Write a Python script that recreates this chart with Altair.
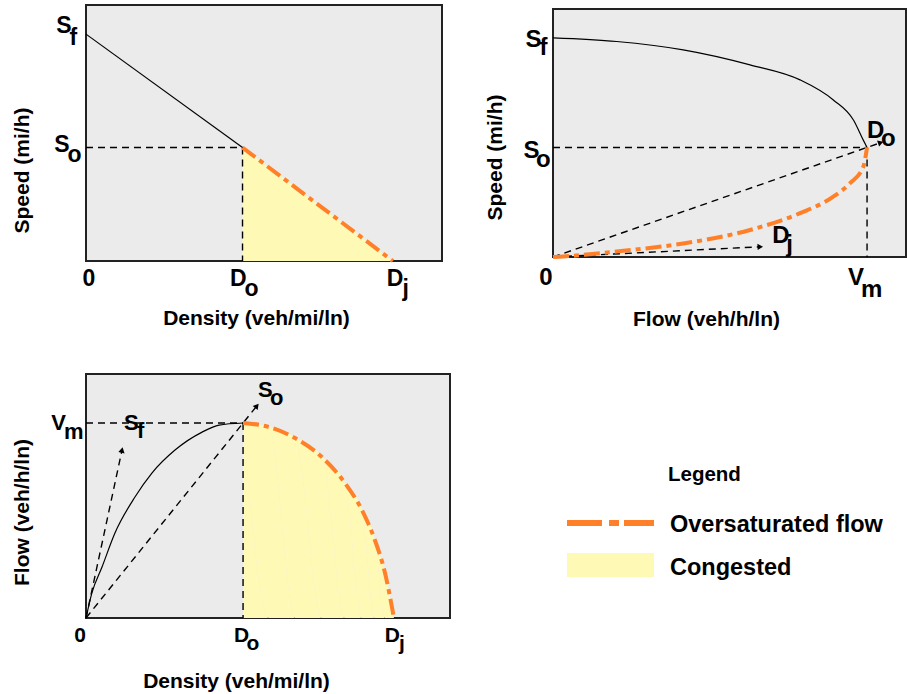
import altair as alt
import pandas as pd

FONT = "Liberation Sans"
ORANGE = "#FF8029"
YELLOW = "#FFF9B6"
GRAY = "#EBEBEB"
DASH_BLACK = [7, 5]
DASH_ORANGE = [16, 5, 5, 5]

# characteristic values (schematic units)
S_F = 60      # free-flow speed
S_O = 30      # optimum speed
D_O = 51      # optimum density
D_J = 100     # jam density
V_M = 1500    # maximum flow

# ---------- panel 1: speed vs density ----------
p1_density_free = [0, 51]
p1_speed_free = [60, 30]
p1_density_cong = [51, 100]
p1_speed_cong = [30, 0]
p1_xtick_values = [0, D_O, D_J]
p1_xtick_main = ["0", "D", "D"]
p1_xtick_sub = ["", "o", "j"]
p1_ytick_values = [S_F, S_O]
p1_ytick_main = ["S", "S"]
p1_ytick_sub = ["f", "o"]

# ---------- panel 2: speed vs flow ----------
p2_flow_upper = [0, 304, 622, 941, 1180, 1339, 1435, 1482, 1500]
p2_speed_upper = [60, 59.0, 56.7, 52.6, 48.5, 43.0, 37.5, 32.0, 30]
p2_flow_lower = [0, 33, 304, 622, 941, 1180, 1339, 1419, 1482, 1500]
p2_speed_lower = [0, 0.1, 1.5, 3.7, 7.4, 12.0, 16.5, 20.2, 24.7, 30]
p2_ray_do = [1565, 31.3]
p2_ray_dj = [990, 2.8]

# ---------- panel 3: flow vs density ----------
p3_density_rise = [0, 1.9, 5.2, 9.4, 15.9, 21.4, 28.9, 37.7, 43.2, 51]
p3_flow_rise = [0, 192, 392, 654, 931, 1115, 1292, 1430, 1484, 1500]
p3_density_cong = [51, 59.4, 67.9, 76.6, 84.1, 89.6, 93.8, 97.1, 100]
p3_flow_cong = [1500, 1469, 1384, 1238, 1038, 830, 600, 346, 0]
p3_ray_sf = [11.7, 1292]
p3_ray_so = [55.5, 1632]

AXIS_TITLES = {
    "density": "Density (veh/mi/ln)",
    "speed": "Speed (mi/h)",
    "flow": "Flow (veh/h/ln)",
}
LEGEND_TITLE = "Legend"
LEGEND_ITEMS = ["Oversaturated flow", "Congested"]

TITLE_SIZE = 21


def axis(title, pad, tx=None, ty=None):
    kw = dict(title=title, labels=False, ticks=False, domain=False, grid=False,
              titleFont=FONT, titleFontSize=TITLE_SIZE, titleFontWeight="bold",
              titleColor="black", titlePadding=pad, minExtent=0)
    if tx is not None:
        kw["titleX"] = tx
    if ty is not None:
        kw["titleY"] = ty
    return alt.Axis(**kw)


def scales(xdom, ydom, xax, yax):
    X = alt.X("x:Q", scale=alt.Scale(domain=xdom, nice=False, zero=False), axis=xax)
    Y = alt.Y("y:Q", scale=alt.Scale(domain=ydom, nice=False, zero=False), axis=yax)
    return X, Y


def line_df(xs, ys):
    return pd.DataFrame({"x": xs, "y": ys, "i": list(range(len(xs)))})


def rules_df(segs):
    return pd.DataFrame(segs, columns=["x", "y", "x2", "y2"])


def txt(X, Y, xv, yv, s, dx, dy, size, align):
    df = pd.DataFrame({"x": [xv], "y": [yv], "t": [s]})
    return alt.Chart(df).mark_text(
        align=align, baseline="alphabetic", dx=dx, dy=dy, fontSize=size,
        fontWeight="bold", font=FONT, color="black"
    ).encode(x=X, y=Y, text="t:N")


def solid(X, Y, df, interp="linear"):
    return alt.Chart(df).mark_line(color="black", strokeWidth=1.2, interpolate=interp).encode(
        x=X, y=Y, order="i:Q")


def orange(X, Y, df, interp="linear"):
    return alt.Chart(df).mark_line(color=ORANGE, strokeWidth=4, strokeDash=DASH_ORANGE,
                                   interpolate=interp).encode(x=X, y=Y, order="i:Q")


def dashed(X, Y, df):
    return alt.Chart(df).mark_rule(color="black", strokeWidth=1.4, strokeDash=DASH_BLACK).encode(
        x=X, y=Y, x2="x2:Q", y2="y2:Q")


def arrow(X, Y, xv, yv, ang):
    df = pd.DataFrame({"x": [xv], "y": [yv]})
    return alt.Chart(df).mark_point(shape="triangle-up", filled=True, size=40, color="black",
                                    opacity=1, angle=ang).encode(x=X, y=Y)


# ===== panel 1 =====
X1, Y1 = scales([0, 116], [0, 67.7],
                axis(AXIS_TITLES["density"], 46, tx=170),
                axis(AXIS_TITLES["speed"], 54, ty=165))
p1_layers = [
    alt.Chart(line_df(p1_density_cong, p1_speed_cong)).mark_area(color=YELLOW, opacity=1).encode(x=X1, y=Y1),
    solid(X1, Y1, line_df(p1_density_free, p1_speed_free)),
    dashed(X1, Y1, rules_df([(0, S_O, D_O, S_O), (D_O, S_O, D_O, 0)])),
    orange(X1, Y1, line_df(p1_density_cong, p1_speed_cong)),
]
P1_MAIN, P1_SUB = 23, 23
p1_xoff = [(3, 25, "center", 0, 0), (4, 25, "right", 2, 35), (10.5, 25, "right", 9.5, 35)]
for v, m, s, (dx, dy, al, sdx, sdy) in zip(p1_xtick_values, p1_xtick_main, p1_xtick_sub, p1_xoff):
    p1_layers.append(txt(X1, Y1, v, 0, m, dx, dy, P1_MAIN, al))
    if s:
        p1_layers.append(txt(X1, Y1, v, 0, s, sdx, sdy, P1_SUB, "left"))
p1_yoff = [(-14.5, -1, -16.5, 11), (-16.5, 4, -18.5, 14)]
for v, m, s, (dx, dy, sdx, sdy) in zip(p1_ytick_values, p1_ytick_main, p1_ytick_sub, p1_yoff):
    p1_layers.append(txt(X1, Y1, 0, v, m, dx, dy, P1_MAIN, "right"))
    p1_layers.append(txt(X1, Y1, 0, v, s, sdx, sdy, P1_SUB, "left"))
p1 = alt.layer(*p1_layers).properties(width=356, height=256)

# ===== panel 2 =====
X2, Y2 = scales([0, 1686], [0, 67.9],
                axis(AXIS_TITLES["flow"], 51, tx=153),
                axis(AXIS_TITLES["speed"], 48, ty=148))
p2_area_df = pd.DataFrame({"x": p2_flow_lower, "y": p2_speed_lower,
                           "x2": [0] * len(p2_flow_lower), "i": list(range(len(p2_flow_lower)))})
P2 = 24
p2_layers = [
    alt.Chart(p2_area_df).mark_area(color=YELLOW, opacity=1, orient="horizontal",
                                    interpolate="monotone").encode(
        x=X2, y=Y2, x2="x2:Q", order="i:Q"),
    solid(X2, Y2, line_df(p2_flow_upper, p2_speed_upper), "monotone"),
    dashed(X2, Y2, rules_df([(0, S_O, V_M, S_O), (V_M, S_O, V_M, 0),
                             (0, 0, p2_ray_do[0], p2_ray_do[1]),
                             (0, 0, p2_ray_dj[0], p2_ray_dj[1])])),
    orange(X2, Y2, line_df(p2_flow_lower, p2_speed_lower), "monotone"),
    arrow(X2, Y2, p2_ray_do[0], p2_ray_do[1], 71),
    arrow(X2, Y2, p2_ray_dj[0], p2_ray_dj[1], 87),
    # y tick labels
    txt(X2, Y2, 0, S_F, "S", -11.5, 9, P2, "right"),
    txt(X2, Y2, 0, S_F, "f", -13.5, 17, P2, "left"),
    txt(X2, Y2, 0, S_O, "S", -13.5, 10.5, P2, "right"),
    txt(X2, Y2, 0, S_O, "o", -17, 19.5, P2, "left"),
    # x tick labels
    txt(X2, Y2, 0, 0, "0", -7, 28, P2, "center"),
    txt(X2, Y2, V_M, 0, "V", -3, 28, P2, "right"),
    txt(X2, Y2, V_M, 0, "m", -6, 40, P2, "left"),
    # ray labels
    txt(X2, Y2, V_M, S_O, "D", 0, -9.5, P2, "left"),
    txt(X2, Y2, V_M, S_O, "o", 14, -1.5, P2, "left"),
    txt(X2, Y2, p2_ray_dj[0], p2_ray_dj[1], "D", 12, -4, P2, "left"),
    txt(X2, Y2, p2_ray_dj[0], p2_ray_dj[1], "j", 26, 5, P2, "left"),
]
p2 = alt.layer(*p2_layers).properties(width=353, height=248)

# ===== panel 3 =====
X3, Y3 = scales([0, 118.2], [0, 1877],
                axis(AXIS_TITLES["density"], 52, tx=150),
                axis(AXIS_TITLES["flow"], 54, ty=138))
P3X, P3 = 21, 22
p3_layers = [
    alt.Chart(line_df(p3_density_cong, p3_flow_cong)).mark_area(color=YELLOW, opacity=1,
                                                                interpolate="monotone").encode(
        x=X3, y=Y3, order="i:Q"),
    solid(X3, Y3, line_df(p3_density_rise, p3_flow_rise), "monotone"),
    dashed(X3, Y3, rules_df([(0, V_M, D_O, V_M), (D_O, V_M, D_O, 0),
                             (0, 0, p3_ray_so[0], p3_ray_so[1]),
                             (0, 0, p3_ray_sf[0], p3_ray_sf[1])])),
    orange(X3, Y3, line_df(p3_density_cong, p3_flow_cong), "monotone"),
    arrow(X3, Y3, p3_ray_sf[0], p3_ray_sf[1], 12),
    arrow(X3, Y3, p3_ray_so[0], p3_ray_so[1], 39),
    txt(X3, Y3, 0, 0, "0", -6, 24, P3X, "center"),
    txt(X3, Y3, D_O, 0, "D", 6, 24, P3X, "right"),
    txt(X3, Y3, D_O, 0, "o", 3.5, 32, P3X, "left"),
    txt(X3, Y3, D_J, 0, "D", 6, 24, P3X, "right"),
    txt(X3, Y3, D_J, 0, "j", 5, 32, P3X, "left"),
    txt(X3, Y3, 0, V_M, "V", -20, 7, P3, "right"),
    txt(X3, Y3, 0, V_M, "m", -22, 16, P3, "left"),
    txt(X3, Y3, p3_ray_sf[0], p3_ray_sf[1], "S", 2, -20, P3, "left"),
    txt(X3, Y3, p3_ray_sf[0], p3_ray_sf[1], "f", 15, -12, P3, "left"),
    txt(X3, Y3, p3_ray_so[0], p3_ray_so[1], "S", 1, -9, P3, "left"),
    txt(X3, Y3, p3_ray_so[0], p3_ray_so[1], "o", 13, -1, P3, "left"),
]
p3 = alt.layer(*p3_layers).properties(width=364, height=244)

# ===== legend panel =====
one = pd.DataFrame({"k": [0]})
leg = alt.layer(
    alt.Chart(one).mark_text(text=LEGEND_TITLE, align="left", baseline="alphabetic", fontSize=20.5,
                             fontWeight="bold", font=FONT, color="black").encode(
        x=alt.value(115), y=alt.value(107)),
    alt.Chart(one).mark_rule(color=ORANGE, strokeWidth=6, strokeDash=[35, 7, 10, 5]).encode(
        x=alt.value(14), x2=alt.value(101), y=alt.value(149)),
    alt.Chart(one).mark_rect(color=YELLOW, opacity=1).encode(
        x=alt.value(14), x2=alt.value(101), y=alt.value(179), y2=alt.value(203)),
    alt.Chart(one).mark_text(text=LEGEND_ITEMS[0], align="left", baseline="alphabetic", fontSize=23.5,
                             fontWeight="bold", font=FONT, color="black").encode(
        x=alt.value(117), y=alt.value(158)),
    alt.Chart(one).mark_text(text=LEGEND_ITEMS[1], align="left", baseline="alphabetic", fontSize=23.5,
                             fontWeight="bold", font=FONT, color="black").encode(
        x=alt.value(117), y=alt.value(201)),
).properties(width=350, height=244,
             view=alt.ViewBackground(fill="transparent", stroke="transparent", strokeWidth=0))

chart = alt.concat(
    p1, p2, p3, leg, columns=2,
    spacing={"row": 113, "column": 103},
    bounds="flush",
    center={"row": True, "column": False},
).properties(
    padding={"left": 10, "top": 4, "right": 0, "bottom": 0},
    background="white",
).configure_view(fill=GRAY, stroke="#222222", strokeWidth=2)

chart.save("out.html", embed_options={"renderer": "svg", "actions": False})
